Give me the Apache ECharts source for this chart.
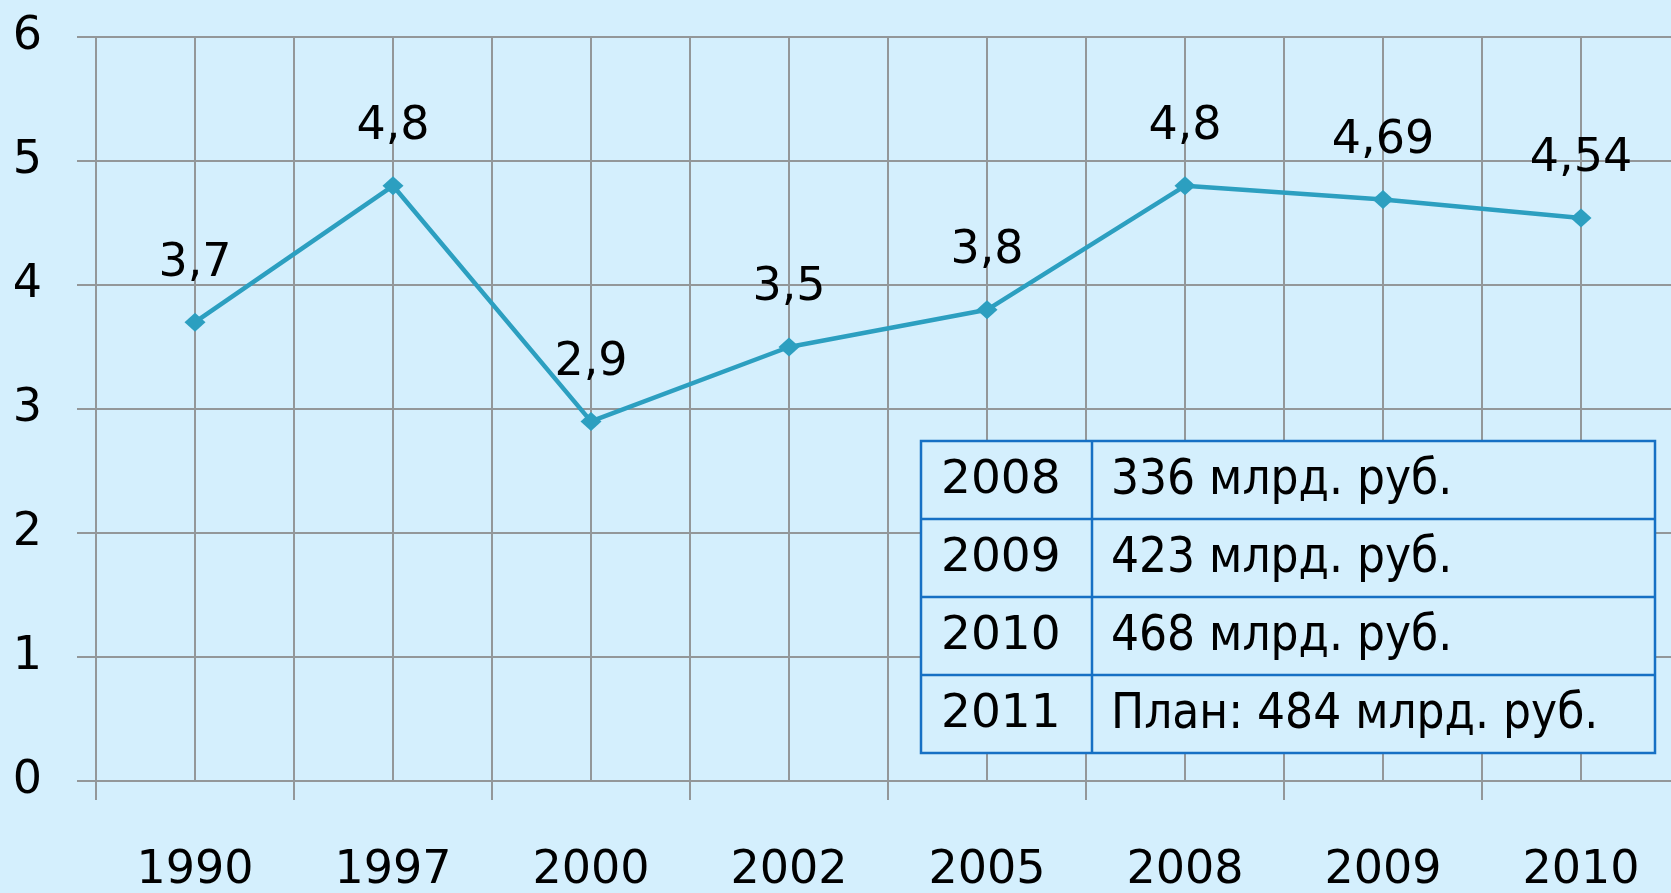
<!DOCTYPE html>
<html>
<head>
<meta charset="utf-8">
<script src="https://cdn.jsdelivr.net/npm/echarts@6/dist/echarts.min.js"></script>
<style>
html,body{margin:0;padding:0;background:#d4effd;}
#chart{width:1671px;height:893px;}
</style>
</head>
<body>
<div id="chart"></div>
<script>
const categories = ['1990','1997','2000','2002','2005','2008','2009','2010'];
const values = [3.7, 4.8, 2.9, 3.5, 3.8, 4.8, 4.69, 4.54];
const yTicks = [0, 1, 2, 3, 4, 5, 6];
const tableYears = ['2008','2009','2010','2011'];
const tableTexts = ['336 млрд. руб.','423 млрд. руб.','468 млрд. руб.','План: 484 млрд. руб.'];

const BG = '#d4effd';
const GRID = '#939799';
const FONT = 'DejaVu Sans';

const chart = echarts.init(document.getElementById('chart'));

// table graphic built from the arrays
const tX = 921, tY = 441, tW = 734, rowH = 78, colW = 171;
const tableEls = [];
tableEls.push({type:'rect', shape:{x:tX, y:tY, width:tW, height:rowH*tableYears.length},
  style:{fill:BG, stroke:'#1670c4', lineWidth:2.5}, z:100});
for (let i = 1; i < tableYears.length; i++) {
  tableEls.push({type:'line', shape:{x1:tX, y1:tY+rowH*i, x2:tX+tW, y2:tY+rowH*i},
    style:{stroke:'#1670c4', lineWidth:2.5}, z:101});
}
tableEls.push({type:'line', shape:{x1:tX+colW, y1:tY, x2:tX+colW, y2:tY+rowH*tableYears.length},
  style:{stroke:'#1670c4', lineWidth:2.5}, z:101});
tableYears.forEach((y, i) => {
  tableEls.push({type:'text', z:102, style:{text:y, x:tX+20, y:tY+rowH*i+rowH/2+1,
    font:'47px "DejaVu Sans"', fill:'#000', align:'left', verticalAlign:'middle'}});
  tableEls.push({type:'text', z:102, style:{text:tableTexts[i], x:tX+colW+19, y:tY+rowH*i+rowH/2+1,
    font:'49px "DejaVu Sans Condensed", "Liberation Sans"', fill:'#000', align:'left', verticalAlign:'middle'}});
});

chart.setOption({
  backgroundColor: BG,
  animation: false,
  grid: {left: 96, right: -9, top: 37, bottom: 112, containLabel: false, outerBoundsMode: 'none'},
  xAxis: [
    {
      type: 'category', data: categories, boundaryGap: true,
      axisLine: {show: true, lineStyle: {color: GRID, width: 2}},
      axisTick: {show: true, length: 19, lineStyle: {color: GRID, width: 2}},
      splitLine: {show: false},
      axisLabel: {color: '#000', fontFamily: FONT, fontSize: 46, margin: 67}
    },
    {
      type: 'value', min: 0, max: categories.length * 2, interval: 1,
      position: 'bottom',
      axisLine: {show: false}, axisTick: {show: false}, axisLabel: {show: false},
      splitLine: {show: true, lineStyle: {color: GRID, width: 2}}
    }
  ],
  yAxis: {
    type: 'value', min: yTicks[0], max: yTicks[yTicks.length-1], interval: 1,
    axisLine: {show: true, lineStyle: {color: GRID, width: 2}},
    axisTick: {show: true, length: 19, lineStyle: {color: GRID, width: 2}},
    splitLine: {show: true, lineStyle: {color: GRID, width: 2}},
    axisLabel: {color: '#000', fontFamily: FONT, fontSize: 46, margin: 54,
      verticalAlign: 'middle', padding: [0, 0, 24, 0]}
  },
  series: [{
    type: 'line', xAxisIndex: 0, data: values,
    symbol: 'diamond', symbolSize: [21, 19],
    lineStyle: {color: '#2c9fc0', width: 4.5},
    itemStyle: {color: '#2c9fc0'},
    label: {show: true, position: 'top', distance: 26, color: '#000',
      fontFamily: FONT, fontSize: 46,
      formatter: p => String(p.value).replace('.', ',')},
    z: 10
  }],
  graphic: tableEls
});
</script>
</body>
</html>
